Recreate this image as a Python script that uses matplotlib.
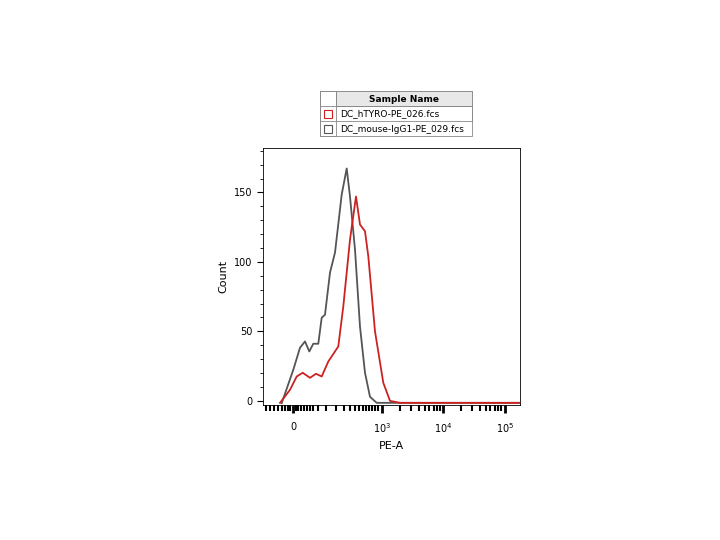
import numpy as np
import matplotlib.pyplot as plt
from matplotlib.patches import Rectangle

# x in display units of the biexponential PE-A axis, y in counts
gray_x = [281.7, 293.3, 300, 305, 309.3, 313.3, 318.3, 321.7, 325, 330, 335, 341.7,
          346.7, 350, 355, 360, 365, 370, 376.7, 400, 520]
gray_px = [403.3, 370, 348, 341.7, 351.7, 344, 344, 318, 315, 273, 253, 195,
           169, 197, 250, 327, 373, 397, 403, 403, 403]
red_x = [280, 290, 296.7, 302.7, 310, 316, 321.7, 328.3, 335, 338.3, 343.3, 350,
         356, 360, 365, 368.3, 375, 383.3, 390, 400, 520]
red_px = [403, 390, 376.7, 373, 378, 374, 376.7, 361.7, 351.7, 346.7, 306.7, 240,
          197, 225, 231.7, 256.7, 331.7, 383, 401, 403, 403]
gray_y = [(401 - p) / 1.387 for p in gray_px]
red_y = [(401 - p) / 1.387 for p in red_px]

samples = ["DC_hTYRO-PE_026.fcs", "DC_mouse-IgG1-PE_029.fcs"]
colors = ["#cc2222", "#555555"]

fig = plt.figure(figsize=(7.2, 5.4), dpi=100)
ax = fig.add_axes([263 / 720, 1 - 405 / 540, 257 / 720, 257 / 540])
ax.plot(gray_x, gray_y, color=colors[1], lw=1.3)
ax.plot(red_x, red_y, color=colors[0], lw=1.3)
ax.set_xlim(263, 520)
ax.set_ylim(-3, 182)

ax.set_yticks([0, 50, 100, 150])
ax.set_yticks(np.arange(0, 181, 10), minor=True)
ax.tick_params(axis="y", labelsize=7, length=4)
ax.tick_params(axis="y", which="minor", length=2)

major = [293, 382, 443, 505]
ax.set_xticks(major)
ax.set_xticklabels(["0", "$10^3$", "$10^4$", "$10^5$"], fontsize=7)
minor = [266, 270, 274, 278, 282, 285, 288, 290, 296, 298, 301, 304, 307, 310, 313, 318,
         326, 336, 344, 350, 355, 359, 363, 366, 369, 372, 375, 378]
for d in (382, 443):
    minor += [d + 61 * np.log10(k) for k in range(2, 10)]
ax.set_xticks(minor, minor=True)
ax.tick_params(axis="x", which="major", length=6, width=2, pad=6)
ax.tick_params(axis="x", which="minor", length=4, width=1.5)
ax.set_xlabel("PE-A", fontsize=8)
ax.set_ylabel("Count", fontsize=8)
for s in ax.spines.values():
    s.set_linewidth(0.6)

# sample legend table
W, H = 720, 540
def box(x0, y0, w, h, **kw):
    fig.patches.append(Rectangle((x0 / W, 1 - (y0 + h) / H), w / W, h / H,
                                 transform=fig.transFigure, **kw))
box(320, 91, 152, 45, fill=False, ec="#888888", lw=0.6)
box(336, 91, 136, 15, fc="#e8e8e8", ec="#888888", lw=0.6)
box(320, 106, 152, 15, fill=False, ec="#888888", lw=0.6)
box(320, 91, 16, 45, fill=False, ec="#888888", lw=0.6)
fig.text(404 / W, 1 - 99 / H, "Sample Name", ha="center", va="center", fontsize=6.5, weight="bold")
for i, (s, c) in enumerate(zip(samples, colors)):
    yc = 114 + 15 * i
    box(324, yc - 4, 8, 8, fill=False, ec=c, lw=0.8)
    fig.text(340 / W, 1 - yc / H, s, ha="left", va="center", fontsize=6.5)

fig.savefig("out.png", dpi=100)
